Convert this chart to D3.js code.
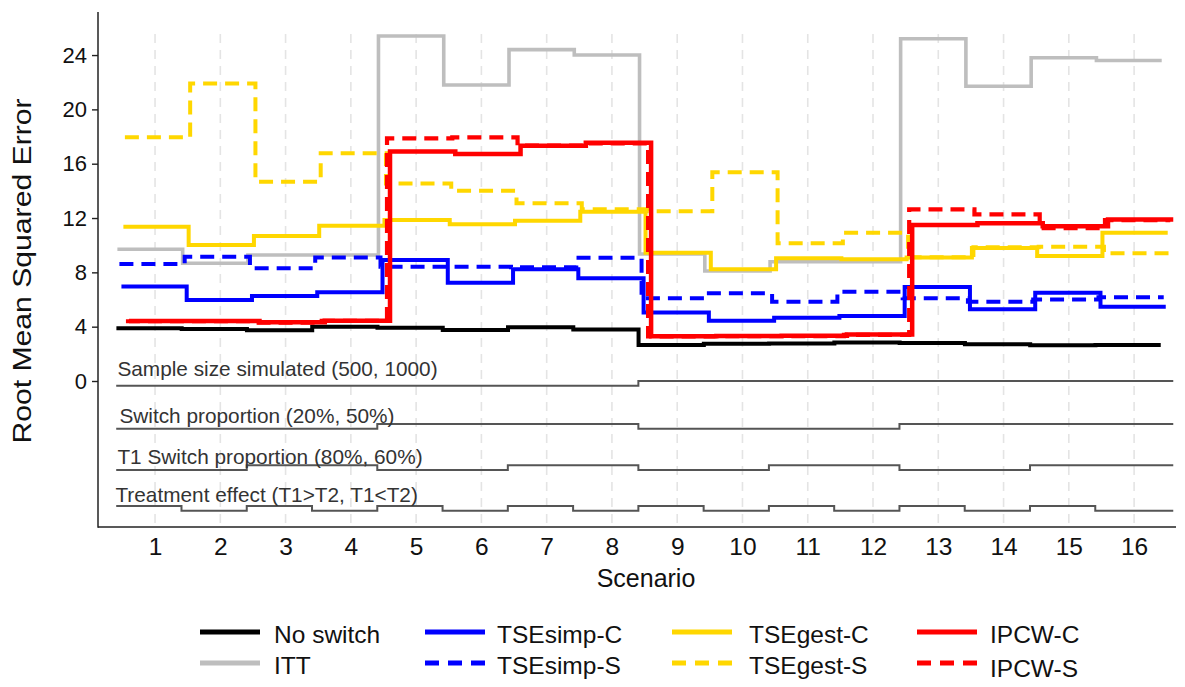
<!DOCTYPE html>
<html>
<head>
<meta charset="utf-8">
<script src="https://cdn.jsdelivr.net/npm/d3@7"></script>
<style>
  html, body { margin: 0; padding: 0; background: #fff; }
  svg { display: block; font-family: "Liberation Sans", Arial, sans-serif; }
</style>
</head>
<body>
<svg id="chart" width="1185" height="687"></svg>
<script>
// Scenarios of the simulation study
const scenarios = [1, 2, 3, 4, 5, 6, 7, 8, 9, 10, 11, 12, 13, 14, 15, 16];

// Root mean squared error per method and scenario
const noSwitch  = [3.88, 3.83, 3.73, 4.00, 3.93, 3.76, 3.95, 3.80, 2.65, 2.75, 2.77, 2.83, 2.80, 2.70, 2.63, 2.65];
const itt       = [9.70, 8.67, 9.28, 9.28, 25.40, 21.80, 24.40, 24.00, 9.35, 8.10, 8.78, 8.78, 25.20, 21.70, 23.80, 23.60];
const tseSimpC  = [6.95, 5.96, 6.26, 6.53, 8.91, 7.24, 8.22, 7.56, 5.05, 4.44, 4.66, 4.79, 6.92, 5.28, 6.50, 5.47];
const tseSimpS  = [8.62, 9.15, 8.30, 9.10, 8.42, 8.42, 8.38, 9.08, 6.09, 6.46, 5.84, 6.58, 6.09, 5.84, 6.01, 6.16];
const tseGestC  = [11.36, 10.01, 10.68, 11.44, 11.86, 11.54, 11.80, 12.47, 9.45, 8.22, 9.03, 8.96, 9.10, 9.80, 9.20, 10.92];
const tseGestS  = [17.94, 21.90, 14.68, 16.77, 14.55, 14.00, 13.08, 12.65, 12.50, 15.37, 10.14, 10.92, 9.12, 9.85, 9.89, 9.40];
const ipcwC     = [4.42, 4.42, 4.32, 4.44, 16.89, 16.72, 17.33, 17.55, 3.30, 3.32, 3.33, 3.42, 11.49, 11.61, 11.40, 11.90];
const ipcwS     = [4.40, 4.40, 4.30, 4.42, 17.87, 17.94, 17.33, 17.50, 3.28, 3.30, 3.30, 3.40, 12.64, 12.27, 11.25, 11.85];

// Simulation design factors (0 = lower step, 1 = upper step)
const sampleSize      = [0, 0, 0, 0, 0, 0, 0, 0, 1, 1, 1, 1, 1, 1, 1, 1];
const switchProp      = [0, 0, 0, 0, 1, 1, 1, 1, 0, 0, 0, 0, 1, 1, 1, 1];
const t1SwitchProp    = [0, 0, 1, 1, 0, 0, 1, 1, 0, 0, 1, 1, 0, 0, 1, 1];
const treatmentEffect = [1, 0, 1, 0, 1, 0, 1, 0, 1, 0, 1, 0, 1, 0, 1, 0];

const designLabels = [
  "Sample size simulated (500, 1000)",
  "Switch proportion (20%, 50%)",
  "T1 Switch proportion (80%, 60%)",
  "Treatment effect (T1>T2, T1<T2)"
];

const yTicks = [0, 4, 8, 12, 16, 20, 24];

// ---- styling ----
const styles = {
  "ITT":       { values: itt,      color: "#bebebe", width: 3.6, dash: null,   shift: -0.077 },
  "No switch": { values: noSwitch, color: "#000000", width: 4,   dash: null,   shift: -0.092 },
  "TSEgest-C": { values: tseGestC, color: "#ffd700", width: 4,   dash: null,   shift: 0.015 },
  "TSEgest-S": { values: tseGestS, color: "#ffd700", width: 4,   dash: "14,8", shift: 0.038 },
  "TSEsimp-C": { values: tseSimpC, color: "#0000ff", width: 4,   dash: null,   shift: -0.015 },
  "TSEsimp-S": { values: tseSimpS, color: "#0000ff", width: 4,   dash: "14,8", shift: -0.046 },
  "IPCW-S":    { values: ipcwS,    color: "#ff0000", width: 4.2, dash: "14,8", shift: 0.054 },
  "IPCW-C":    { values: ipcwC,    color: "#ff0000", width: 4.5, dash: null,   shift: 0.100 }
};
const drawOrder = ["ITT", "No switch", "TSEgest-C", "TSEgest-S", "TSEsimp-C", "TSEsimp-S", "IPCW-S", "IPCW-C"];

const svg = d3.select("#chart");

const plotLeft = 98, plotRight = 1176, plotTop = 12, plotBottom = 527;
const x = d3.scaleLinear().domain([0.126, 16.642]).range([plotLeft, plotRight]);
const y = d3.scaleLinear().domain([-10.75, 27.17]).range([plotBottom, plotTop]);

// vertical dashed grid at each scenario
svg.append("g").selectAll("line").data(scenarios).join("line")
  .attr("x1", d => x(d)).attr("x2", d => x(d))
  .attr("y1", plotTop + 22).attr("y2", plotBottom)
  .attr("stroke", "#e4e4e4").attr("stroke-width", 1.6)
  .attr("stroke-dasharray", "9,7");

// step line through scenario blocks
function stepPoints(values, shift, extendEnd) {
  const pts = values.map((v, i) => [scenarios[i] - 0.5 + shift, v]);
  pts.push([scenarios[scenarios.length - 1] + 0.5 + (extendEnd != null ? extendEnd : shift), values[values.length - 1]]);
  return pts;
}
const stepLine = d3.line().x(d => x(d[0])).y(d => y(d[1])).curve(d3.curveStepAfter);

// design (nested loop) lines below zero
const designRows = [sampleSize, switchProp, t1SwitchProp, treatmentEffect];
const rowTop = [0, -3.17, -6.21, -9.2];
const rowStep = 0.35;
const labelDy = [-5, -1.5, -1, -3.5];
const labelDx = [0, 2, 0, -2];
const designG = svg.append("g");
designRows.forEach((levels, r) => {
  const vals = levels.map(l => rowTop[r] - (1 - l) * rowStep);
  designG.append("path")
    .attr("d", stepLine(stepPoints(vals, -0.095, 0.1)))
    .attr("fill", "none").attr("stroke", "#555555").attr("stroke-width", 2);
  designG.append("text")
    .attr("x", x(0.5) - 5 + labelDx[r])
    .attr("y", y(rowTop[r]) + labelDy[r])
    .attr("font-size", 20.8).attr("fill", "#333333")
    .text(designLabels[r]);
});

// method lines
const linesG = svg.append("g");
drawOrder.forEach(name => {
  const s = styles[name];
  linesG.append("path")
    .attr("d", stepLine(stepPoints(s.values, s.shift)))
    .attr("fill", "none")
    .attr("stroke", s.color)
    .attr("stroke-width", s.width)
    .attr("stroke-dasharray", s.dash)
    .attr("stroke-linejoin", "miter");
});

// axes
const yAxis = svg.append("g").attr("transform", `translate(${plotLeft},0)`)
  .call(d3.axisLeft(y).tickValues(yTicks).tickSize(6).tickPadding(5).tickFormat(d3.format("d")));
yAxis.select(".domain").remove();
yAxis.selectAll(".tick line").attr("stroke", "#222").attr("stroke-width", 1.4);
yAxis.selectAll(".tick text").attr("font-size", 22).attr("fill", "#111")
  .attr("font-family", "'Liberation Sans', Arial, sans-serif");

const xAxis = svg.append("g").attr("transform", `translate(0,${plotBottom})`)
  .call(d3.axisBottom(x).tickValues(scenarios).tickSize(0).tickPadding(11).tickFormat(d3.format("d")));
xAxis.select(".domain").remove();
xAxis.selectAll(".tick text").attr("font-size", 24.5).attr("fill", "#111")
  .attr("font-family", "'Liberation Sans', Arial, sans-serif");

svg.append("line").attr("x1", plotLeft).attr("x2", plotLeft)
  .attr("y1", plotTop).attr("y2", plotBottom + 0.7)
  .attr("stroke", "#222").attr("stroke-width", 1.5);
svg.append("line").attr("x1", plotLeft).attr("x2", plotRight)
  .attr("y1", plotBottom).attr("y2", plotBottom)
  .attr("stroke", "#222").attr("stroke-width", 1.5);

svg.append("text").attr("x", 646).attr("y", 578).attr("text-anchor", "middle")
  .attr("dominant-baseline", "central").attr("font-size", 25).attr("fill", "#111")
  .text("Scenario");
svg.append("text").attr("transform", "translate(22,271) rotate(-90)")
  .attr("text-anchor", "middle").attr("dominant-baseline", "central")
  .attr("font-size", 25).attr("fill", "#111")
  .attr("textLength", 345).attr("lengthAdjust", "spacingAndGlyphs")
  .text("Root Mean Squared Error");

// legend: two rows, four columns
const legendCols = [200, 425, 672, 917];
const legendRows = [632, 663];
const legendTextDx = [74, 72, 77, 73];
const legendItems = [
  ["No switch", 0, 0], ["ITT", 0, 1],
  ["TSEsimp-C", 1, 0], ["TSEsimp-S", 1, 1],
  ["TSEgest-C", 2, 0], ["TSEgest-S", 2, 1],
  ["IPCW-C", 3, 0], ["IPCW-S", 3, 1]
];
const legendG = svg.append("g");
legendItems.forEach(([name, c, r]) => {
  const s = styles[name];
  const lx = legendCols[c], ly = legendRows[r];
  legendG.append("line")
    .attr("x1", lx).attr("x2", lx + 60).attr("y1", ly).attr("y2", ly)
    .attr("stroke", s.color).attr("stroke-width", 5)
    .attr("stroke-dasharray", s.dash ? "14,9" : null);
  legendG.append("text")
    .attr("x", lx + legendTextDx[c])
    .attr("y", ly + 2 + (name === "IPCW-S" ? 3 : 0))
    .attr("dominant-baseline", "central")
    .attr("font-size", 24.5).attr("fill", "#111")
    .text(name);
});
</script>
</body>
</html>
